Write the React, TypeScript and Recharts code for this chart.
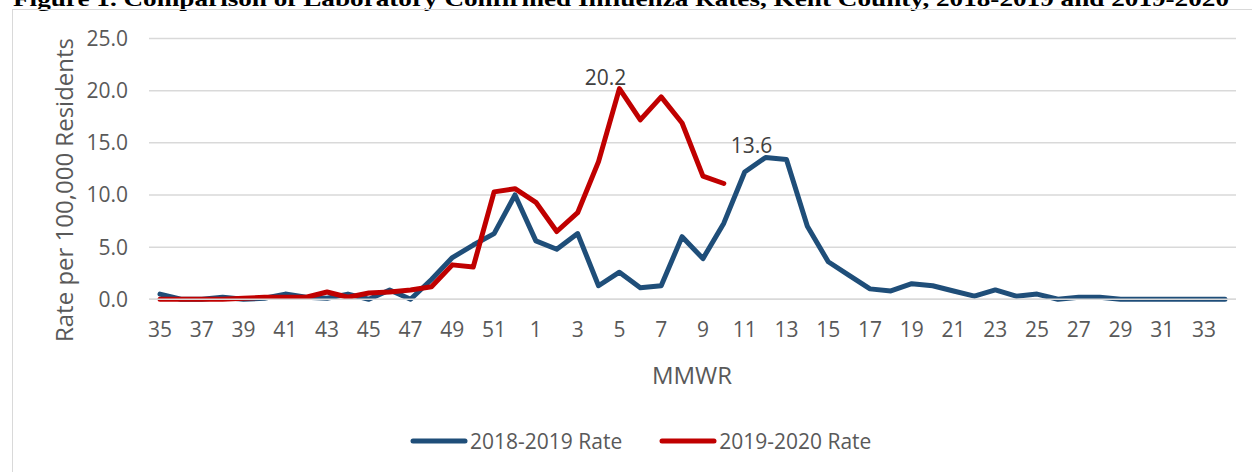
import { CartesianGrid, Label, Legend, Line, LineChart, XAxis, YAxis } from "recharts";

const weeks = [
  "35", "36", "37", "38", "39", "40", "41", "42", "43", "44", "45", "46", "47", "48", "49", "50", "51", "52",
  "1", "2", "3", "4", "5", "6", "7", "8", "9", "10", "11", "12", "13", "14", "15", "16", "17",
  "18", "19", "20", "21", "22", "23", "24", "25", "26", "27", "28", "29", "30", "31", "32", "33", "34",
];

// 2018-2019 season, weeks 35..34
const rate1819 = [
  0.5, 0.0, 0.0, 0.2, 0.0, 0.1, 0.5, 0.2, 0.1, 0.5, 0.0, 0.9, 0.0, 1.9, 4.0, 5.2, 6.3, 10.0,
  5.6, 4.8, 6.3, 1.3, 2.6, 1.1, 1.3, 6.0, 3.9, 7.3, 12.2, 13.6, 13.4, 7.0, 3.6, 2.3, 1.0,
  0.8, 1.5, 1.3, 0.8, 0.3, 0.9, 0.3, 0.5, 0.0, 0.2, 0.2, 0.0, 0.0, 0.0, 0.0, 0.0, 0.0,
];

// 2019-2020 season, only up to week 10
const rate1920 = [
  0.0, 0.0, 0.0, 0.0, 0.1, 0.2, 0.2, 0.2, 0.7, 0.2, 0.6, 0.7, 0.9, 1.2, 3.3, 3.1, 10.3, 10.6,
  9.3, 6.5, 8.3, 13.2, 20.2, 17.2, 19.4, 16.9, 11.8, 11.1,
];

const yTicks = [0, 5, 10, 15, 20, 25];

const seriesNames = ["2018-2019 Rate", "2019-2020 Rate"];
const seriesColors = ["#1F4E79", "#C00000"];

const data = weeks.map((week, i) => ({
  week,
  r1819: rate1819[i],
  r1920: i < rate1920.length ? rate1920[i] : null,
}));

const font = "'Open Sans', sans-serif";

// label only the season peak
const peakLabel = (values: number[]) => {
  const peak = values.indexOf(Math.max(...values));
  return (props: any) => {
    const { x, y, index, value } = props;
    if (index !== peak) return <g key={index} />;
    return (
      <text key={index} x={x - 14} y={y - 4} textAnchor="middle" fill="#404040" fontSize={21} fontFamily={font}>
        {Number(value).toFixed(1)}
      </text>
    );
  };
};

const renderLegend = () => (
  <div style={{ display: "flex", alignItems: "center", fontFamily: font, fontSize: 21, color: "#595959" }}>
    {seriesNames.map((name, i) => (
      <div key={name} style={{ display: "flex", alignItems: "center", marginRight: i === 0 ? 37 : 0 }}>
        <svg width={58} height={10}>
          <line x1={3} y1={5} x2={55} y2={5} stroke={seriesColors[i]} strokeWidth={5} strokeLinecap="round" />
        </svg>
        <span style={{ marginLeft: 2, lineHeight: "24px" }}>{name}</span>
      </div>
    ))}
  </div>
);

export default function App() {
  return (
    <div style={{ position: "absolute", left: 0, top: 0, width: 1252, height: 472, overflow: "hidden", background: "#fff" }}>
      <svg width={1252} height={20} style={{ position: "absolute", left: 0, top: 0 }}>
        <text x={13} y={6} textLength={1216} lengthAdjust="spacingAndGlyphs" fontFamily="'Liberation Serif', 'Times New Roman', serif" fontWeight="bold" fontSize={21} fill="#000">
          Figure 1. Comparison of Laboratory Confirmed Influenza Rates, Kent County, 2018-2019 and 2019-2020
        </text>
      </svg>
      <div style={{ position: "absolute", left: 12, top: 9, width: 1300, height: 500, border: "1px solid #d9d9d9" }} />
      <div style={{ position: "absolute", left: 0, top: 0 }}>
        <LineChart width={1252} height={472} data={data} margin={{ top: 38.5, right: 16, left: 0, bottom: 72.7 }}>
          <CartesianGrid vertical={false} stroke="#d9d9d9" strokeWidth={1.5} />
          <XAxis
            dataKey="week"
            interval={1}
            height={100}
            padding={{ left: 11, right: 11 }}
            tickLine={false}
            tickSize={0}
            tickMargin={23}
            axisLine={{ stroke: "#d9d9d9", strokeWidth: 1.5 }}
            tick={{ fill: "#595959", fontSize: 21, fontFamily: font }}
          >
            <Label
              content={() => (
                <text x={692} y={374} textAnchor="middle" dominantBaseline="central" fill="#595959" fontSize={24} fontFamily={font}>
                  MMWR
                </text>
              )}
            />
          </XAxis>
          <YAxis
            width={149}
            domain={[0, 25]}
            ticks={yTicks}
            tickFormatter={(v: number) => v.toFixed(1)}
            axisLine={false}
            tickLine={false}
            tickSize={0}
            tickMargin={21}
            tick={{ fill: "#595959", fontSize: 21, fontFamily: font }}
          >
            <Label
              content={() => (
                <text x={63} y={190} transform="rotate(-90 63 190)" textAnchor="middle" dominantBaseline="central" fill="#595959" fontSize={24} fontFamily={font}>
                  Rate per 100,000 Residents
                </text>
              )}
            />
          </YAxis>
          <Legend
            layout="horizontal"
            verticalAlign="middle"
            align="center"
            content={renderLegend}
            wrapperStyle={{ left: 410, top: 429, width: "auto" }}
          />
          <Line
            type="linear"
            dataKey="r1819"
            name={seriesNames[0]}
            stroke={seriesColors[0]}
            strokeWidth={5}
            strokeLinejoin="round"
            strokeLinecap="round"
            dot={false}
            activeDot={false}
            label={peakLabel(rate1819)}
            isAnimationActive={false}
          />
          <Line
            type="linear"
            dataKey="r1920"
            name={seriesNames[1]}
            stroke={seriesColors[1]}
            strokeWidth={5}
            strokeLinejoin="round"
            strokeLinecap="round"
            dot={false}
            activeDot={false}
            label={peakLabel(rate1920)}
            isAnimationActive={false}
          />
        </LineChart>
      </div>
    </div>
  );
}
